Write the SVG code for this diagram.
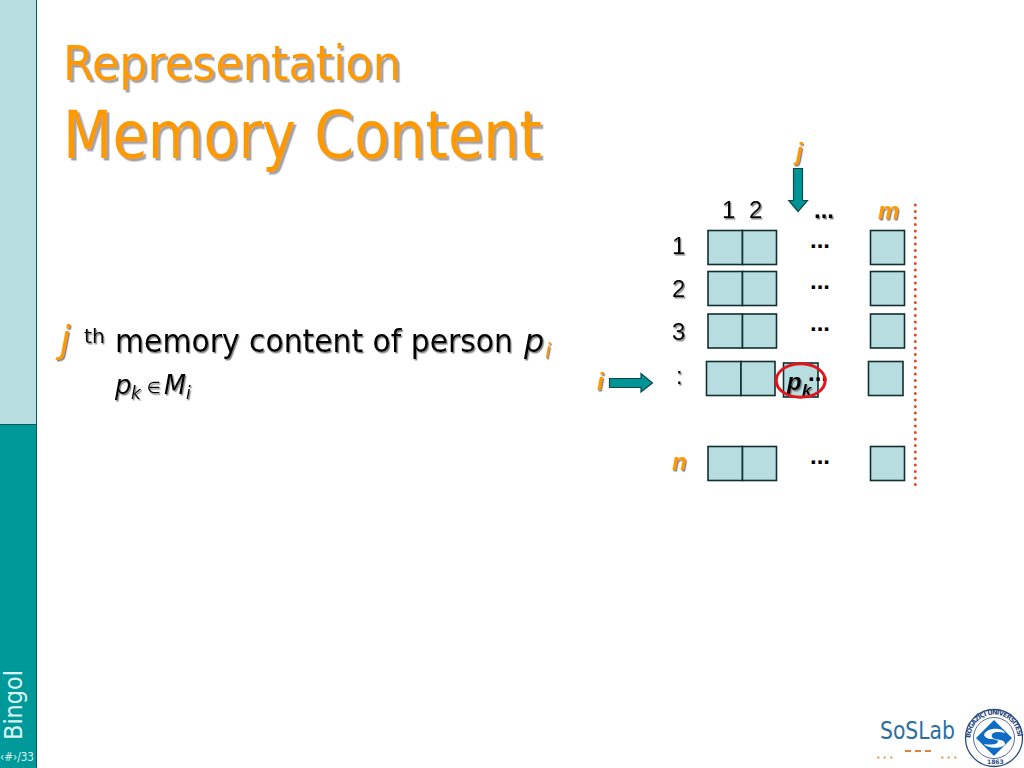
<svg xmlns="http://www.w3.org/2000/svg" width="1024" height="768" viewBox="0 0 1024 768">
<style>
text{font-family:"DejaVu Sans","Liberation Sans",sans-serif}
.or{fill:#ff9900}
.k{fill:#000}
.it{font-style:italic}
.cell{fill:#b8dde1;stroke:#10302f;stroke-width:1.6}
.lbl{font-family:"Liberation Sans",Arial,sans-serif;font-size:24px}
.dots{font-family:"Liberation Sans",Arial,sans-serif;font-size:24px;font-weight:bold}
.arrow{fill:#009494;stroke:#0c4a4a;stroke-width:1.2}
.sh{filter:url(#shadow)}
.sh2{filter:url(#shadow2)}
</style>
<defs>
<filter id="shadow" x="-10%" y="-20%" width="120%" height="140%"><feDropShadow dx="2.5" dy="2.5" stdDeviation="0.6" flood-color="#999" flood-opacity="0.9"/></filter>
<filter id="shadow2" x="-30%" y="-30%" width="170%" height="170%"><feDropShadow dx="1.2" dy="1.5" stdDeviation="0.5" flood-color="#777" flood-opacity="0.9"/></filter>
<path id="sealArc" d="M970.5 738a23.5 23.5 0 1 1 47 0"/>
</defs>
<rect width="1024" height="768" fill="#fff"/>

<g id="sidebar">
<rect x="0" y="0" width="36" height="424" fill="#b8dde1"/>
<rect x="0" y="424" width="36" height="344" fill="#009999"/>
<path d="M36.500 0V768M0 424.500H36" stroke="#0d5a5a" stroke-width="1" fill="none"/>
<text transform="translate(22 740) rotate(-90)" font-size="24" fill="#d8f4f4" textLength="70" lengthAdjust="spacingAndGlyphs">Bingol</text>
<text x="0" y="761" font-size="12" fill="#d8f4f4" textLength="34" lengthAdjust="spacingAndGlyphs">‹#›/33</text>
</g>

<g id="title" class="sh">
<text x="63" y="80" font-size="48" class="or" textLength="338" lengthAdjust="spacingAndGlyphs">Representation</text>
<text x="63" y="158" font-size="66" class="or" textLength="479" lengthAdjust="spacingAndGlyphs">Memory Content</text>
</g>

<g id="body" class="sh2">
<text x="60" y="352" font-size="38" class="or it">j</text>
<text x="84" y="343" font-size="20" class="k" textLength="21" lengthAdjust="spacingAndGlyphs">th</text>
<text x="115" y="352" font-size="32" class="k" textLength="398" lengthAdjust="spacingAndGlyphs">memory content of person</text>
<text x="524" y="352" font-size="32" class="k it">p</text>
<text x="545" y="358" font-size="21" class="or it">i</text>
<text x="115" y="394" font-size="26" class="k it">p</text>
<text x="131" y="399" font-size="17" class="k it">k</text>
<text x="147" y="393" font-size="16" class="k">∈</text>
<text x="164" y="394" font-size="26" class="k it" textLength="22" lengthAdjust="spacingAndGlyphs">M</text>
<text x="186" y="399" font-size="17" class="k it">i</text>
</g>

<g id="connectors">
<path class="arrow" d="M793.500 168.500H802.500V200.500H807.500L798 211.500L788.800 200.500H793.500Z"/>
<path class="arrow" d="M609.500 378.500H641V373.500L652.500 383L641 392V387.500H609.500Z"/>
<path d="M915.300 205V485" stroke="#e2492b" stroke-width="3" stroke-linecap="round" stroke-dasharray="0 6.500" fill="none"/>
</g>

<g id="col-labels" class="sh2">
<text x="722" y="218" class="lbl k">1</text>
<text x="749" y="218" class="lbl k">2</text>
<text x="814" y="218" class="dots k">...</text>
<text x="878" y="219" class="lbl or it" font-weight="bold">m</text>
<text x="796" y="160" class="lbl or it" font-weight="bold">j</text>
</g>
<g id="row-labels" class="sh2">
<text x="672" y="254" class="lbl k">1</text>
<text x="672" y="297" class="lbl k">2</text>
<text x="672" y="340" class="lbl k">3</text>
<text x="676" y="384" class="lbl k">:</text>
<text x="672" y="470" class="lbl or it" font-weight="bold">n</text>
<text x="597" y="390" class="lbl or it" font-weight="bold">i</text>
</g>

<g id="row-1">
<rect class="cell" x="708" y="230.500" width="34.500" height="34"/><rect class="cell" x="742.500" y="230.500" width="34" height="34"/>
<rect class="cell" x="870.500" y="230.500" width="34" height="34"/>
<text x="810" y="248" class="dots k">...</text>
</g>
<g id="row-2">
<rect class="cell" x="708" y="271.500" width="34.500" height="34"/><rect class="cell" x="742.500" y="271.500" width="34" height="34"/>
<rect class="cell" x="870.500" y="271.500" width="34" height="34"/>
<text x="810" y="289" class="dots k">...</text>
</g>
<g id="row-3">
<rect class="cell" x="708" y="314" width="34.500" height="34"/><rect class="cell" x="742.500" y="314" width="34" height="34"/>
<rect class="cell" x="870.500" y="314" width="34" height="34"/>
<text x="810" y="331" class="dots k">...</text>
</g>
<g id="row-i">
<rect class="cell" x="706.500" y="361.500" width="34.500" height="34"/><rect class="cell" x="741" y="361.500" width="34" height="34"/>
<rect class="cell" x="868.500" y="361.500" width="34.500" height="34"/>
<rect class="cell" x="783.500" y="363" width="34.500" height="34" stroke="#3a5560"/>
<text x="808" y="381" class="dots k">...</text>
<g class="sh2">
<text x="787" y="390" font-size="24" font-weight="bold" class="lbl k it">p</text>
<text x="802" y="396" font-size="16" font-weight="bold" class="k it" style="font-family:'Liberation Sans',sans-serif;font-size:17px">k</text>
</g>
<ellipse cx="800.700" cy="380.500" rx="24.500" ry="16.800" fill="none" stroke="#e3141c" stroke-width="3"/>
</g>
<g id="row-n">
<rect class="cell" x="708" y="446.500" width="34.500" height="34"/><rect class="cell" x="742.500" y="446.500" width="34" height="34"/>
<rect class="cell" x="870.500" y="446.500" width="34" height="34"/>
<text x="810" y="464" class="dots k">...</text>
</g>

<g id="logo">
<text x="880" y="739" font-size="24" fill="#2c6f9f" textLength="75" lengthAdjust="spacingAndGlyphs">SoSLab</text>
<path d="M877 757.500H893M941 757.500H957" stroke="#e8a868" stroke-width="2" stroke-dasharray="2.500 4" fill="none"/>
<path d="M905 751H931" stroke="#e0803a" stroke-width="2" stroke-dasharray="6 4" fill="none"/>
<circle cx="994" cy="738" r="28.500" fill="#fff" stroke="#2a4a80" stroke-width="1.300"/>
<circle cx="994" cy="738" r="20.500" fill="#fff" stroke="#2a4a80" stroke-width="0.800"/>
<path d="M994 720L1012 738L994 756L976 738Z" fill="#0f6cc4"/>
<path d="M984 735C986 727 1003 727 1005 733C998 731 990 732 992 737C994 741 1005 738 1005 744C1003 749 988 749 984 744C990 745 998 745 998 741C996 738 986 741 984 735Z" fill="#fff"/>
<text font-size="6.500" font-weight="bold" fill="#2a4a80"><textPath href="#sealArc" textLength="72">BOĞAZİÇİ ÜNİVERSİTESİ</textPath></text>
<text x="987" y="764" font-size="6" font-weight="bold" fill="#2a4a80">1863</text>
</g>
</svg>
